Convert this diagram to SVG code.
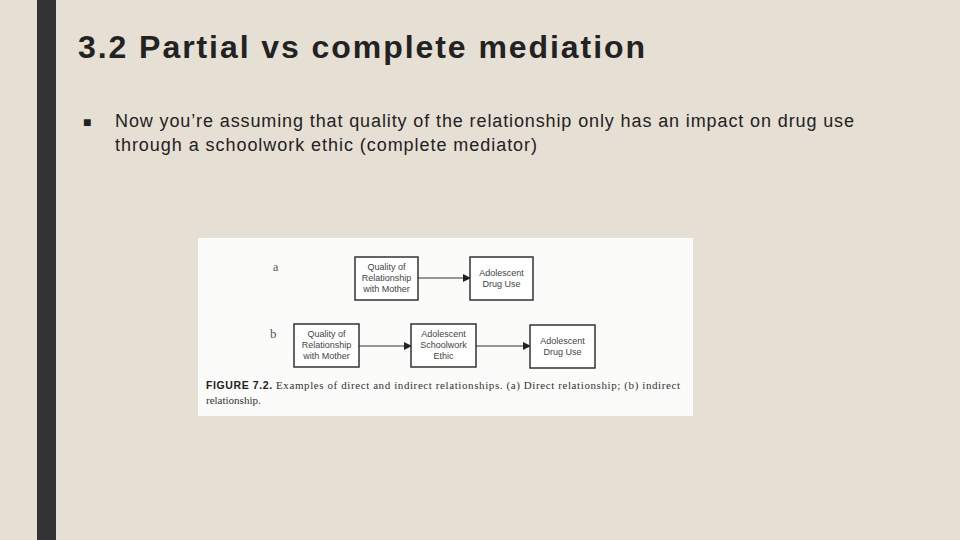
<svg xmlns="http://www.w3.org/2000/svg" width="960" height="540" viewBox="0 0 960 540">
<defs>
<style>
.t{font-family:"Liberation Sans",Arial,sans-serif;fill:#222}
.bx{fill:#fff;stroke:#333;stroke-width:1.5}
.lb{font-family:"Liberation Sans",Arial,sans-serif;font-size:9px;fill:#444;text-anchor:middle}
.cn{stroke:#333;stroke-width:1;fill:none;marker-end:url(#ah)}
.cap{font-family:"Liberation Serif","Times New Roman",serif;font-size:11px;fill:#333}
</style>
<marker id="ah" markerWidth="8" markerHeight="8" refX="7" refY="4" orient="auto" markerUnits="userSpaceOnUse"><path d="M0,0 L8,4 L0,8 z" fill="#222"/></marker>
</defs>
<rect width="960" height="540" fill="#e6dfd4"/>
<rect x="37" y="0" width="19" height="540" fill="#333"/>
<text class="t" x="78" y="58" font-size="32" font-weight="bold" textLength="567">3.2 Partial vs complete mediation</text>
<text class="t" x="83" y="127" font-size="14">■</text>
<text class="t" x="115" y="127" font-size="18" textLength="739">Now you’re assuming that quality of the relationship only has an impact on drug use</text>
<text class="t" x="115" y="151" font-size="18" textLength="422">through a schoolwork ethic (complete mediator)</text>
<rect x="198" y="238" width="495" height="178" fill="#fbfbf9"/>
<text x="273" y="271" font-family="Liberation Serif,serif" font-size="12" fill="#555">a</text>
<text x="270" y="338" font-family="Liberation Serif,serif" font-size="13" fill="#555">b</text>
<g id="connectors">
<line class="cn" x1="418" y1="278" x2="470" y2="278"/>
<line class="cn" x1="359" y1="346" x2="411" y2="346"/>
<line class="cn" x1="476" y1="346" x2="530" y2="346"/>
</g>
<g id="a1"><rect class="bx" x="355" y="257" width="63" height="43"/><text class="lb" x="386.5" y="270">Quality of</text><text class="lb" x="386.5" y="281">Relationship</text><text class="lb" x="386.5" y="292">with Mother</text></g>
<g id="a2"><rect class="bx" x="470" y="257" width="63" height="43"/><text class="lb" x="501.5" y="276">Adolescent</text><text class="lb" x="501.5" y="287">Drug Use</text></g>
<g id="b1"><rect class="bx" x="294" y="324" width="65" height="43"/><text class="lb" x="326.5" y="337">Quality of</text><text class="lb" x="326.5" y="348">Relationship</text><text class="lb" x="326.5" y="359">with Mother</text></g>
<g id="b2"><rect class="bx" x="411" y="324" width="65" height="43"/><text class="lb" x="443.5" y="337">Adolescent</text><text class="lb" x="443.5" y="348">Schoolwork</text><text class="lb" x="443.5" y="359">Ethic</text></g>
<g id="b3"><rect class="bx" x="530" y="325" width="65" height="43"/><text class="lb" x="562.5" y="344">Adolescent</text><text class="lb" x="562.5" y="355">Drug Use</text></g>
<text class="cap" x="206" y="389" textLength="474"><tspan font-family="Liberation Sans,sans-serif" font-weight="bold" font-size="10.5" fill="#222">FIGURE 7.2.</tspan> Examples of direct and indirect relationships. (a) Direct relationship; (b) indirect</text>
<text class="cap" x="206" y="404">relationship.</text>
</svg>
